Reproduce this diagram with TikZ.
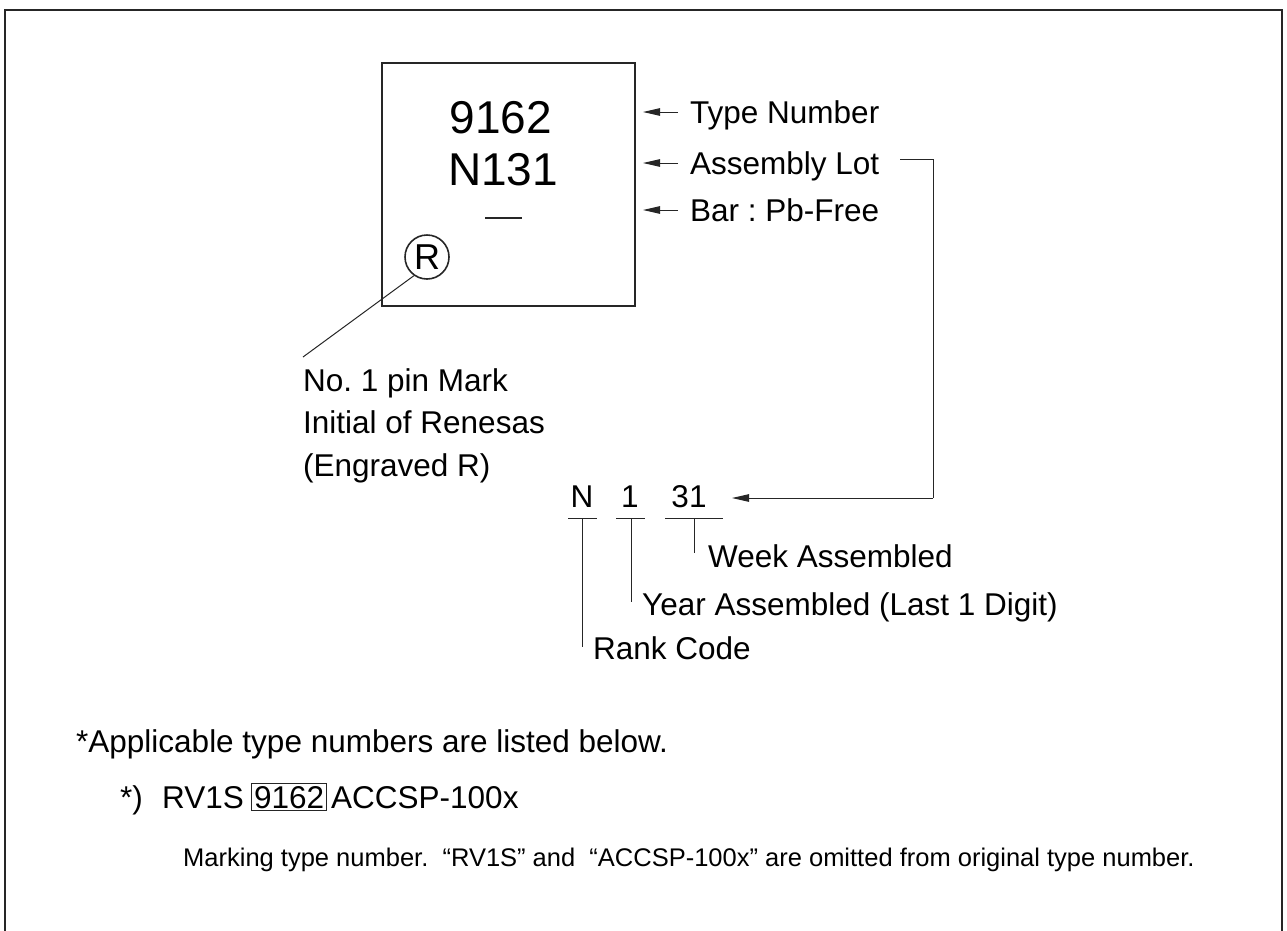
\documentclass[tikz,border=0pt]{standalone}
\usepackage{fontspec}
\setmainfont{Liberation Sans}
\usetikzlibrary{arrows.meta}
\frenchspacing
\begin{document}
\begin{tikzpicture}[x=1pt,y=-1pt,
  lbl/.style={anchor=base west,inner sep=0pt,font=\fontsize{31.5}{38}\selectfont},
  big/.style={anchor=base,inner sep=0pt,font=\fontsize{46}{55}\selectfont},
  small/.style={anchor=base west,inner sep=0pt,font=\fontsize{25.5}{30}\selectfont},
  thin/.style={line width=1pt,black!85},
  arr/.style={thin,-{Triangle[length=17pt,width=7.5pt]}}]
\useasboundingbox (0,0) rectangle (1287,930);
% frame
\draw[line width=2pt,black!85] (5,945) -- (5,10) -- (1282,10) -- (1282,945);
% chip
\node[draw,line width=2.5pt,black!85,minimum width=253pt,minimum height=243pt,inner sep=0pt] (chip) at (508.5,184.5) {};
\node[big] (tn) at (501,133) {9162};
\node[big] (lot) at (503,185) {N131};
\coordinate (barL) at (485,218);
\coordinate (barR) at (522,218);
\draw[line width=2pt,black!85] (barL) -- (barR);
\node[circle,draw,line width=1.6pt,black!85,minimum size=44pt,inner sep=0pt,font=\fontsize{36}{44}\selectfont,text=black] (rmark) at (427,257) {R};
\coordinate (pinend) at (303,357);
\draw[thin] (rmark.235) -- (pinend);
\node[lbl] (pin1) at (303,391) {No. 1 pin Mark};
\node[lbl] (pin2) at (303,433) {Initial of Renesas};
\node[lbl] (pin3) at (303,476) {(Engraved R)};
% right labels
\node[lbl] (ltype) at (690,123) {Type Number};
\node[lbl] (llot) at (690,174) {Assembly Lot};
\node[lbl] (lbar) at (690,221) {Bar : Pb-Free};
\coordinate (a1) at (643,112); \coordinate (t1) at (678,112);
\coordinate (a2) at (643,163); \coordinate (t2) at (678,163);
\coordinate (a3) at (643,210); \coordinate (t3) at (678,210);
\draw[arr] (t1) -- (a1);
\draw[arr] (t2) -- (a2);
\draw[arr] (t3) -- (a3);
% lot decomposition
\node[lbl,anchor=base] (cN) at (582,507) {N};
\node[lbl,anchor=base] (c1) at (630,507) {1};
\node[lbl,anchor=base] (c31) at (689,507) {31};
\coordinate (lotA) at (900,159);
\coordinate (lotB) at (933,159);
\coordinate (lotC) at (933,498);
\coordinate (lotT) at (732,498);
\draw[thin] (lotA) -- (lotB) -- (lotC);
\draw[arr] (lotC) -- (lotT);
\draw[thin] (568,518) -- (597,518);
\draw[thin] (616,518) -- (645,518);
\draw[thin] (665,518) -- (723,518);
\draw[thin] (582,518) -- (582,647);
\draw[thin] (631,518) -- (631,602);
\draw[thin] (694,518) -- (694,553);
\node[lbl] (week) at (708,567) {Week Assembled};
\node[lbl] (year) at (642,615) {Year Assembled (Last 1 Digit)};
\node[lbl] (rank) at (593,659) {Rank Code};
% notes
\node[lbl] (appl) at (76,752) {*Applicable type numbers are listed below.};
\node[lbl] (star) at (120,808) {*)};
\node[lbl] (rv) at (162,808) {RV1S};
\node[lbl,draw,line width=1pt,black!85,text=black,inner sep=2.5pt] (boxn) at (251,808) {9162};
\node[lbl] (acc) at (331,808) {ACCSP-100x};
\node[small] (mark) at (183,866) {Marking type number.\ \ “RV1S” and\ \ “ACCSP-100x” are omitted from original type number.};
\end{tikzpicture}
\end{document}
